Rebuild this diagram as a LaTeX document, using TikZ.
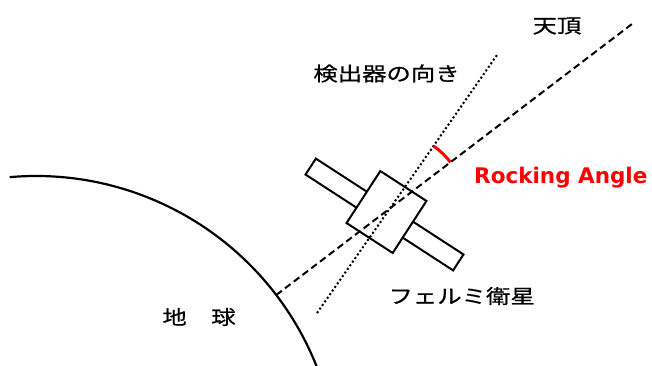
\documentclass[tikz,border=0pt]{standalone}
\usepackage{fontspec}
\newfontfamily\jpfont[FakeStretch=1.25,FakeBold=0.7]{Noto Sans CJK JP}
\newfontfamily\labelfont{DejaVu Sans}
\usetikzlibrary{intersections}

\begin{document}
\begin{tikzpicture}[x=1pt,y=1pt,
        jp/.style={font=\jpfont\fontsize{19.5}{22}\selectfont,inner sep=0pt},
        frame/.style={draw,line width=2pt,inner sep=0pt},
        zenith/.style={line width=2pt,dash pattern=on 7pt off 4pt},
        detaxis/.style={line width=2pt,dash pattern=on 2pt off 2.4pt}]
        \useasboundingbox (0,0) rectangle (652,365);
        \coordinate (c) at (36,-113);
        \coordinate (ground) at ([shift={(37.3:302)}]c);
        \coordinate (top) at (632,341);
        \coordinate (detlow) at (317,52);
        \coordinate (dethigh) at (497,310);
        \draw[line width=2.2pt]([shift={(95:302)}]c) arc (95:21:302);
        \node[frame,minimum width=176pt,minimum height=19pt,rotate=-33](panel)at(384.5,150.5){};
        \node[frame,fill=white,minimum width=55pt,minimum height=62pt,rotate=-33](sat)at(386.5,153){};
        \draw[zenith,name path=zen](ground)--(top);
        \draw[detaxis,name path=det](detlow)--(dethigh);
        \path[name intersections={of=zen and det,by=x}];
        \draw[red,line width=3pt]([shift={(37.3:76)}]x) arc (37.3:55.1:76);
        \node[jp](zenlabel)at(557,339){天頂};
        \node[jp](detlabel)at(386.5,291.5){検出器の向き};
        \node[jp](satlabel)at(461.7,69){フェルミ衛星};
        \node[jp](earth)at(199,48){地　球};
        \node[red,inner sep=0pt,anchor=base,font=\labelfont\bfseries\fontsize{21.5}{24}\selectfont](rock)at(560.8,181.7){Rocking Angle};
    \end{tikzpicture}
\end{document}
